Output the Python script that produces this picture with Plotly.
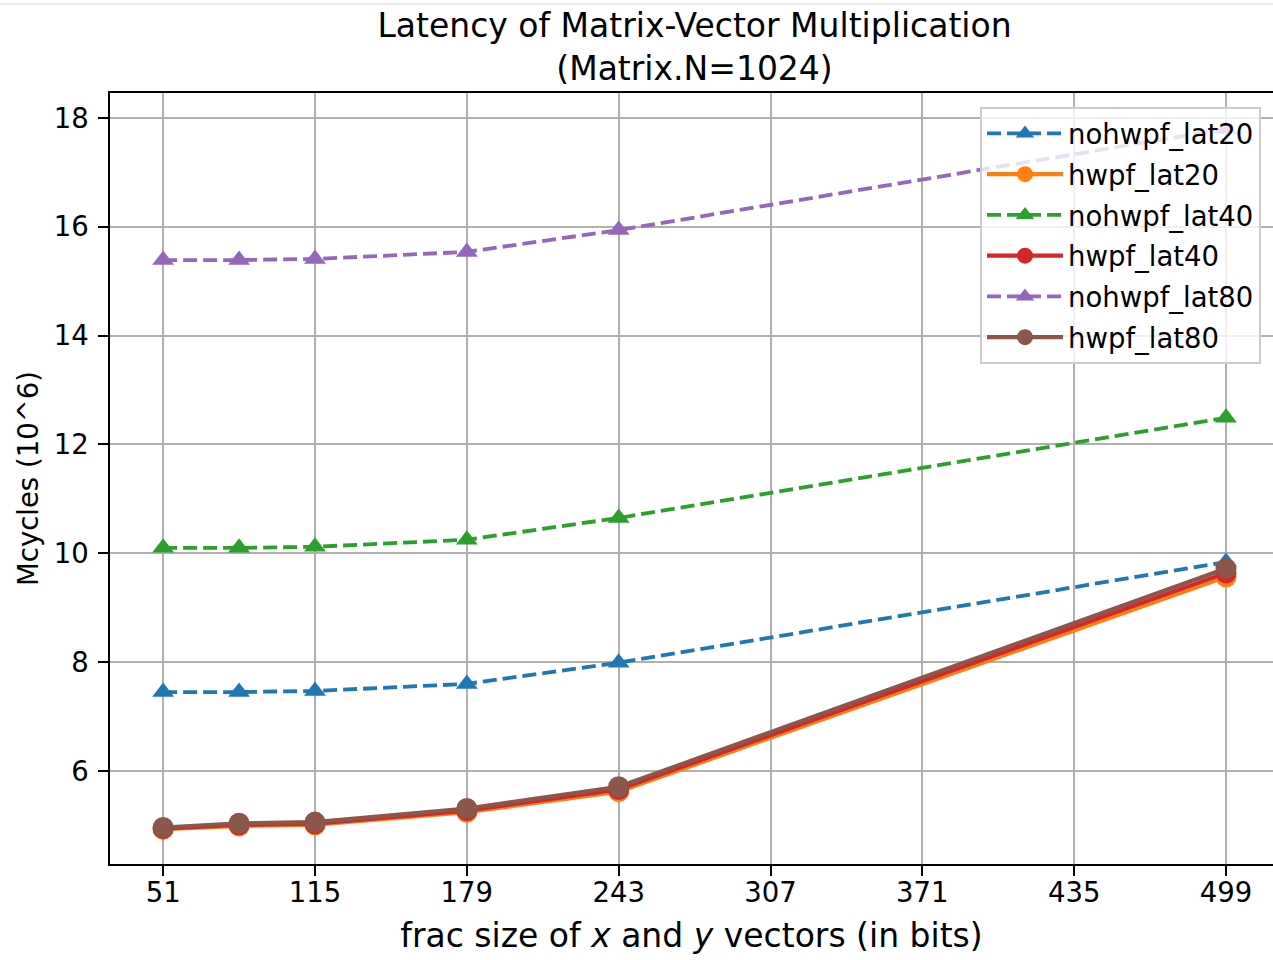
import plotly.graph_objects as go

# ---- data ----
frac_bits = [51, 83, 115, 179, 243, 499]
x_ticks = [51, 115, 179, 243, 307, 371, 435, 499]
y_ticks = [6, 8, 10, 12, 14, 16, 18]

nohwpf_lat20 = [7.45, 7.45, 7.47, 7.60, 7.99, 9.84]
hwpf_lat20 = [4.93, 4.99, 5.01, 5.24, 5.62, 9.57]
nohwpf_lat40 = [10.10, 10.10, 10.12, 10.25, 10.65, 12.49]
hwpf_lat40 = [4.94, 5.01, 5.03, 5.27, 5.66, 9.64]
nohwpf_lat80 = [15.39, 15.39, 15.41, 15.54, 15.94, 17.80]
hwpf_lat80 = [4.96, 5.04, 5.06, 5.31, 5.71, 9.72]

series = [
    ("nohwpf_lat20", nohwpf_lat20, "#1f77b4", "dash"),
    ("hwpf_lat20", hwpf_lat20, "#ff7f0e", "solid"),
    ("nohwpf_lat40", nohwpf_lat40, "#2ca02c", "dash"),
    ("hwpf_lat40", hwpf_lat40, "#d62728", "solid"),
    ("nohwpf_lat80", nohwpf_lat80, "#9467bd", "dash"),
    ("hwpf_lat80", hwpf_lat80, "#8c564b", "solid"),
]

FONT = "DejaVu Sans"
W, H = 1273, 960
ML, MR, MT, MB = 110, 0, 93, 96
PW, PH = W - ML - MR, H - MT - MB

fig = go.Figure()
for name, vals, color, style in series:
    dashed = style == "dash"
    fig.add_trace(go.Scatter(
        x=frac_bits, y=vals, name=name, mode="lines+markers",
        legendgroup=name,
        line=dict(color=color, width=3.8 if dashed else 4.1,
                  dash="14px,6px" if dashed else "solid"),
        marker=dict(symbol="triangle-up" if dashed else "circle",
                    size=19 if dashed else 21, color=color,
                    line=dict(width=0)),
    ))

fig.update_layout(
    width=W, height=H,
    margin=dict(l=ML, r=MR, t=MT, b=MB, pad=0, autoexpand=False),
    paper_bgcolor="white", plot_bgcolor="white",
    font=dict(family=FONT, color="black", size=27.5),
    title=dict(text="Latency of Matrix-Vector Multiplication<br>(Matrix.N=1024)",
               font=dict(family=FONT, size=33, color="black"),
               x=0.5026, xref="paper", xanchor="center",
               y=1 - 37 / H, yref="container", yanchor="top", automargin=False),
    showlegend=True,
    legend=dict(x=(980 - ML) / PW, y=(864 - 107) / PH,
                xanchor="left", yanchor="top",
                bgcolor="rgba(255,255,255,0.8)", bordercolor="#cccccc",
                borderwidth=2, font=dict(family=FONT, size=27.5, color="black"),
                tracegroupgap=2, traceorder="grouped", itemwidth=76),
    shapes=[dict(type="line", xref="paper", yref="paper",
                 x0=-ML / PW, x1=1, y0=(864 - 4) / PH, y1=(864 - 4) / PH,
                 line=dict(color="#d3d3d3", width=1))],
)

fig.update_xaxes(
    range=[28.6, 518.8], tickvals=x_ticks, ticktext=[str(v) for v in x_ticks],
    automargin=False, ticklabelstandoff=-7,
    showgrid=True, gridcolor="#b0b0b0", gridwidth=2.2,
    showline=True, linecolor="black", linewidth=2.2, mirror=True,
    ticks="outside", ticklen=9.6, tickwidth=2.2, tickcolor="black",
    tickfont=dict(family=FONT, size=27.5, color="black"),
    zeroline=False,
    title=dict(text="frac size of <i>x</i> and <i>y</i> vectors (in bits)",
               font=dict(family=FONT, size=33, color="black"), standoff=17),
)
fig.update_yaxes(
    range=[4.29, 18.46], tickvals=y_ticks, ticktext=[str(v) for v in y_ticks],
    automargin=False, ticklabelstandoff=4,
    showgrid=True, gridcolor="#b0b0b0", gridwidth=2.2,
    showline=True, linecolor="black", linewidth=2.2, mirror=False,
    ticks="outside", ticklen=9.6, tickwidth=2.2, tickcolor="black",
    tickfont=dict(family=FONT, size=27.5, color="black"),
    zeroline=False,
    title=dict(text="Mcycles (10^6)", font=dict(family=FONT, size=27.5, color="black"),
               standoff=7),
)

fig.write_html("out.html", config={"displayModeBar": False},
               post_script="document.body.style.margin='0';")
